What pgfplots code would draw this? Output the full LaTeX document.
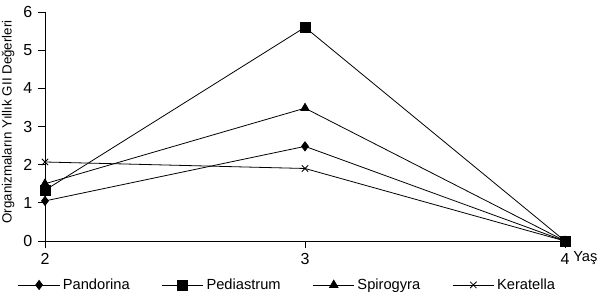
\documentclass[border=0pt]{standalone}
\usepackage{fontspec}
\setmainfont{Liberation Sans}
\usepackage{pgfplots}
\pgfplotsset{compat=1.18}
\begin{document}
\begin{tikzpicture}
\begin{axis}[
  scale only axis,
  width=390pt, height=171.75pt,
  xmin=2, xmax=4, ymin=0, ymax=6,
  axis x line*=bottom, axis y line*=left,
  axis line style={-, black, line width=0.6pt},
  xtick={2,3,4}, ytick={0,1,2,3,4,5,6},
  tick align=outside,
  major tick length=5pt,
  tick style={black, line width=0.6pt},
  /pgf/number format/assume math mode=true,
  tick label style={font=\fontsize{12}{14}\selectfont},
  yticklabel style={xshift=-1pt},
  xticklabel style={yshift=-1pt},
  xlabel={Yaş},
  xlabel style={at={(rel axis cs:1,0)}, anchor=west, inner sep=0pt, font=\fontsize{11}{13}\selectfont, yshift=-13pt, xshift=6pt},
  ylabel={Organizmaların Yıllık GII Değerleri},
  ylabel style={font=\fontsize{10}{12}\selectfont, at={(axis description cs:-0.071,0.52)}, anchor=center},
  legend columns=4,
  legend style={draw=none, fill=none, at={(0.467,-0.192)}, anchor=center, font=\fontsize{11}{13}\selectfont,
    /tikz/every even column/.append style={column sep=22pt}},
  legend image code/.code={\draw[mark repeat=2, mark phase=2, #1] plot coordinates {(0pt,0pt) (15.5pt,0pt) (31pt,0pt)};},
  every axis plot/.append style={black, line width=0.6pt, mark options={solid, fill=black}},
]
\coordinate (O) at (rel axis cs:0,0);
\addplot[mark=diamond*, mark size=3.4pt] coordinates {(2,1.05) (3,2.48) (4,0)};
\addplot[mark=square*, mark size=3.8pt] coordinates {(2,1.33) (3,5.6) (4,0)};
\addplot[mark=triangle*, mark size=3.6pt] coordinates {(2,1.5) (3,3.48) (4,0)};
\addplot[mark=x, mark size=3.4pt] coordinates {(2,2.07) (3,1.9) (4,0)};
\legend{Pandorina, Pediastrum, Spirogyra, Keratella}
\end{axis}
\pgfresetboundingbox
\path (O) ++(-33.75pt,-44.25pt) rectangle ++(450pt,225pt);
\end{tikzpicture}
\end{document}
